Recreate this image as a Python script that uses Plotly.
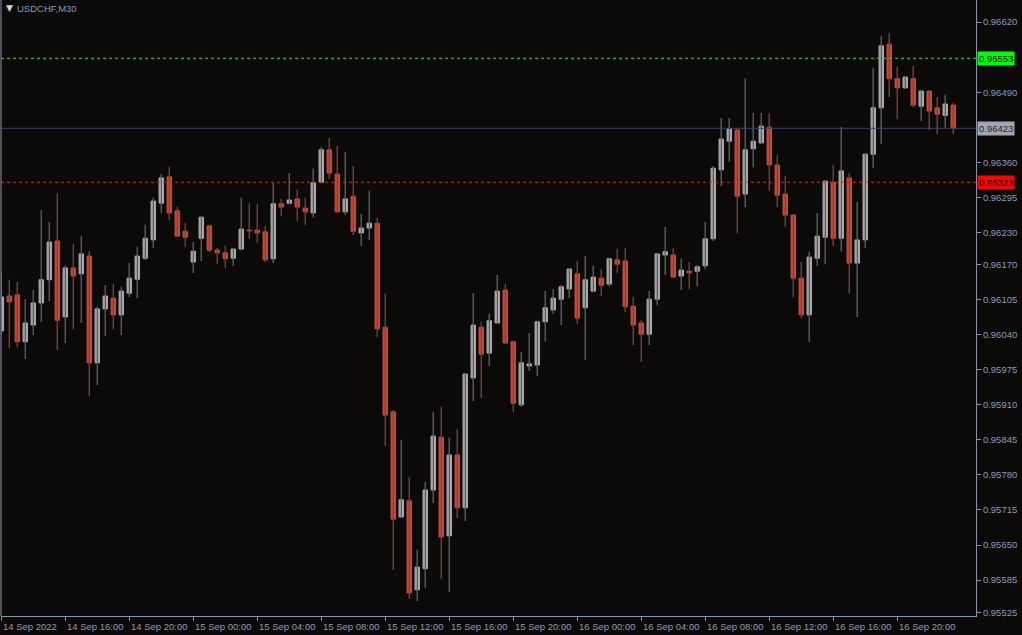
import pandas as pd
import plotly.graph_objects as go

symbol_title = "USDCHF,M30"
start_time = "2022-09-14 12:00"
n_bars = 120

# OHLC values in points (1 point = 0.00001)
opens = [96047,96112,96114,96027,96058,96099,96142,96214,96073,96164,
         96153,96186,95988,96088,96108,96077,96117,96143,96182,96216,
         96284,96333,96270,96232,96175,96219,96242,96197,96192,96182,
         96199,96234,96234,96231,96181,96283,96284,96292,96275,96266,
         96323,96383,96338,96268,96297,96229,96238,96247,96054,95897,
         95702,95732,95567,95606,95752,95850,95667,95817,95719,95960,
         96054,96006,96062,96123,96027,95910,95982,95984,96064,96086,
         96106,96125,96153,96090,96121,96145,96134,96179,96177,96093,
         96062,96041,96106,96188,96188,96149,96158,96158,96168,96218,
         96346,96399,96420,96301,96385,96396,96425,96355,96301,96262,
         96145,96077,96182,96221,96323,96219,96331,96173,96216,96375,
         96461,96579,96515,96498,96515,96464,96492,96461,96447,96466]
highs = [96156,96142,96138,96106,96123,96271,96249,96303,96168,96208,
         96223,96195,96092,96132,96134,96129,96173,96203,96244,96294,
         96338,96351,96277,96247,96212,96260,96244,96201,96205,96200,
         96294,96284,96283,96242,96322,96292,96340,96309,96294,96348,
         96388,96405,96390,96379,96353,96264,96307,96257,96116,95900,
         95845,95776,95641,95767,95897,95906,95849,95865,95969,96117,
         96064,96079,96151,96134,96029,96008,96043,96066,96121,96125,
         96132,96163,96177,96186,96168,96162,96182,96199,96201,96110,
         96067,96121,96191,96240,96201,96181,96175,96169,96249,96353,
         96442,96442,96424,96515,96451,96451,96451,96373,96335,96264,
         96175,96194,96266,96327,96355,96425,96340,96286,96377,96535,
         96594,96600,96537,96520,96539,96494,96494,96481,96485,96470]
lows = [96040,96015,96017,95995,96040,96064,96103,96012,96025,96051,
        96062,95926,95947,96038,96051,96040,96110,96108,96179,96201,
        96266,96253,96221,96203,96155,96177,96194,96171,96164,96168,
        96197,96218,96210,96175,96173,96260,96282,96251,96244,96258,
        96321,96329,96266,96262,96225,96205,96216,96036,95834,95604,
        95700,95550,95546,95570,95728,95587,95563,95700,95695,95917,
        95923,95982,96060,96023,95897,95906,95973,95964,96028,96079,
        96058,96108,96060,95993,96119,96112,96130,96155,96082,96021,
        95990,96021,96095,96151,96145,96123,96125,96130,96162,96214,
        96316,96361,96229,96277,96351,96394,96307,96277,96240,96110,
        96071,96027,96168,96171,96205,96195,96117,96073,96201,96349,
        96394,96481,96440,96496,96462,96437,96420,96412,96424,96412]
closes = [96110,96101,96027,96062,96099,96142,96212,96067,96164,96149,
          96190,95988,96088,96112,96077,96121,96145,96186,96219,96288,
          96331,96266,96223,96221,96195,96258,96197,96192,96181,96199,
          96236,96233,96229,96179,96283,96277,96290,96277,96268,96322,
          96383,96340,96268,96292,96232,96238,96247,96051,95891,95698,
          95734,95561,95609,95752,95852,95665,95817,95719,95967,96058,
          96004,96066,96121,96025,95913,95988,95986,96064,96090,96108,
          96129,96162,96071,96142,96147,96132,96181,96171,96092,96058,
          96041,96106,96190,96194,96147,96160,96155,96166,96218,96349,
          96403,96422,96297,96383,96399,96427,96355,96299,96262,96145,
          96077,96184,96223,96325,96219,96344,96173,96216,96375,96461,
          96576,96515,96498,96518,96466,96492,96455,96449,96468,96423]

# Horizontal price levels
level_green = 0.96553
level_current = 0.96423
level_red = 0.96323

# Axis ticks
price_ticks = [0.96620, 0.96490, 0.96360, 0.96295, 0.96230, 0.96170, 0.96105,
               0.96040, 0.95975, 0.95910, 0.95845, 0.95780, 0.95715, 0.95650,
               0.95585, 0.95525]
time_ticks = ["2022-09-14 12:00", "2022-09-14 16:00", "2022-09-14 20:00",
              "2022-09-15 00:00", "2022-09-15 04:00", "2022-09-15 08:00",
              "2022-09-15 12:00", "2022-09-15 16:00", "2022-09-15 20:00",
              "2022-09-16 00:00", "2022-09-16 04:00", "2022-09-16 08:00",
              "2022-09-16 12:00", "2022-09-16 16:00", "2022-09-16 20:00"]
time_labels = ["14 Sep 2022", "14 Sep 16:00", "14 Sep 20:00", "15 Sep 00:00",
               "15 Sep 04:00", "15 Sep 08:00", "15 Sep 12:00", "15 Sep 16:00",
               "15 Sep 20:00", "16 Sep 00:00", "16 Sep 04:00", "16 Sep 08:00",
               "16 Sep 12:00", "16 Sep 16:00", "16 Sep 20:00"]

scale = 1e-5
times = pd.date_range(start_time, periods=n_bars, freq="30min")

BG = "#0c0a08"
AXIS = "#8a93a8"
TXT = "#8a9cbc"
FONT = "Liberation Sans"
BULL = "#a9a9ab"
BEAR = "#c94b3a"
WICK = "#464a52"

fig = go.Figure()
# bodies
fig.add_trace(go.Candlestick(
    x=times,
    open=[v * scale for v in opens],
    high=[v * scale for v in highs],
    low=[v * scale for v in lows],
    close=[v * scale for v in closes],
    increasing=dict(line=dict(color=BULL, width=1), fillcolor=BULL),
    decreasing=dict(line=dict(color=BEAR, width=1), fillcolor=BEAR),
    whiskerwidth=0,
    hoverinfo="skip",
    showlegend=False,
))
# wicks drawn through the bodies
wx, wy = [], []
for t, h, l in zip(times, highs, lows):
    wx += [t, t, None]
    wy += [h * scale, l * scale, None]
fig.add_trace(go.Scatter(x=wx, y=wy, mode="lines",
                         line=dict(color=WICK, width=1),
                         hoverinfo="skip", showlegend=False))

# level lines
fig.add_hline(y=level_green, line=dict(color="#00ff00", width=1, dash="3px,3px"))
fig.add_hline(y=level_current, line=dict(color="#3a4270", width=1))
fig.add_hline(y=level_red, line=dict(color="#ff1010", width=1, dash="3px,3px"))

bar = pd.Timedelta(minutes=30)
x0 = times[0] - bar * 0.04
x1 = times[0] + bar * 121.84

fig.update_layout(
    width=1022, height=635,
    margin=dict(l=1, r=46, t=0, b=19),
    paper_bgcolor=BG, plot_bgcolor=BG,
    font=dict(family=FONT, size=9.5, color=TXT),
    boxgap=0.2,
    xaxis=dict(
        range=[x0, x1], rangeslider=dict(visible=False),
        showgrid=False, zeroline=False,
        showline=True, linecolor=AXIS, linewidth=1,
        tickvals=list(pd.to_datetime(time_ticks)), ticks="outside",
        ticklen=4, tickcolor=AXIS, showticklabels=False,
    ),
    yaxis=dict(
        range=[0.955183, 0.96661], side="right",
        showgrid=False, zeroline=False,
        showline=True, linecolor=AXIS, linewidth=1,
        tickvals=price_ticks, ticktext=[f"{v:.5f}" for v in price_ticks],
        ticks="outside", ticklen=4, tickcolor=AXIS,
        tickfont=dict(family=FONT, size=9.5, color=TXT),
    ),
    hovermode=False,
)

# left frame line
fig.add_shape(type="line", xref="paper", yref="paper", x0=0, x1=0, y0=0, y1=1,
              line=dict(color=AXIS, width=1))

# time labels, left aligned to tick
for t, lab in zip(time_ticks, time_labels):
    fig.add_annotation(x=pd.Timestamp(t), xref="x", y=0, yref="paper",
                       text=lab, showarrow=False, xanchor="left", yanchor="top",
                       xshift=0, yshift=-3,
                       font=dict(family=FONT, size=9.5, color=TXT))

# price level labels
for val, bg, fg in [(level_green, "#00ff00", "#000000"),
                    (level_current, "#a3a7b3", "#1a2236"),
                    (level_red, "#ff0000", "#000000")]:
    fig.add_annotation(x=1, xref="paper", y=val, yref="y", text=f"{val:.5f}",
                       showarrow=False, xanchor="left", yanchor="middle",
                       xshift=1, bgcolor=bg, borderpad=1,
                       font=dict(family=FONT, size=9.5, color=fg))

# title
fig.add_annotation(x=0, xref="paper", y=1, yref="paper", text="▼",
                   showarrow=False, xanchor="left", yanchor="top",
                   xshift=3, yshift=-1, font=dict(family="DejaVu Sans", size=9, color="#d0d4da"))
fig.add_annotation(x=0, xref="paper", y=1, yref="paper", text=symbol_title,
                   showarrow=False, xanchor="left", yanchor="top",
                   xshift=14, yshift=-1, font=dict(family=FONT, size=9.5, color="#8a9cbc"))

fig.write_html("out.html",
               config={"displayModeBar": False, "staticPlot": True},
               post_script="document.body.style.margin='0';document.body.style.background='" + BG + "';")
